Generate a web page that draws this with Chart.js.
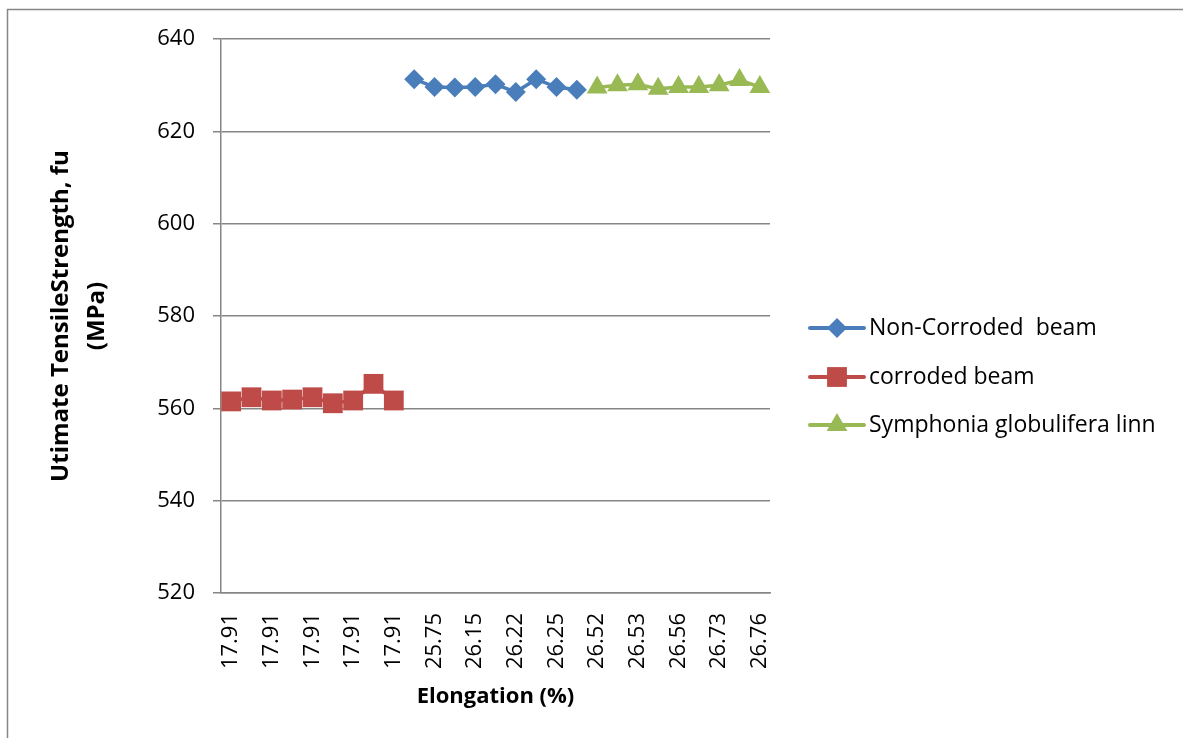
<!DOCTYPE html>
<html>
<head>
<meta charset="utf-8">
<script src="https://cdn.jsdelivr.net/npm/chart.js@4/dist/chart.umd.min.js"></script>
<style>
  html, body { margin: 0; padding: 0; background: #fff; }
  #wrap { width: 1183px; height: 738px; }
</style>
</head>
<body>
<div id="wrap"><canvas id="c" width="1183" height="738"></canvas></div>
<script>
// x categories (only every other label is printed, as in the original)
const elongation = [
	'17.91', '17.91', '17.91', '17.91', '17.91', '17.91', '17.91', '17.91', '17.91',
	'25.60', '25.75', '25.90', '26.15', '26.20', '26.22', '26.24', '26.25', '26.40',
	'26.52', '26.52', '26.53', '26.55', '26.56', '26.60', '26.73', '26.75', '26.76'
]
const nonCorroded = [631.3, 629.6, 629.5, 629.6, 630.2, 628.5, 631.3, 629.6, 629.0]
const corroded = [561.5, 562.4, 561.7, 561.9, 562.4, 561.1, 561.7, 565.3, 561.7]
const symphonia = [629.5, 630.0, 630.2, 629.2, 629.6, 629.6, 630.0, 631.1, 629.6]
const yTicks = [520, 540, 560, 580, 600, 620, 640]

const seriesNames = ['Non-Corroded  beam', 'corroded beam', 'Symphonia globulifera linn']
const seriesStart = [9, 0, 18]

// place a 9 point series at its slot on the shared category axis
function placed(values, start) {
	const out = new Array(elongation.length).fill(null)
	values.forEach((v, i) => { out[start + i] = v })
	return out
}

const gridColor = '#868686'
const fontFamily = "'Open Sans', 'Liberation Sans', sans-serif"

// outer frame of the chart object
const framePlugin = {
	id: 'frame',
	beforeDraw(chart) {
		const ctx = chart.ctx
		ctx.save()
		ctx.strokeStyle = gridColor
		ctx.lineWidth = 1.5
		ctx.beginPath()
		ctx.moveTo(7.5, chart.height)
		ctx.lineTo(7.5, 9.5)
		ctx.lineTo(chart.width, 9.5)
		ctx.stroke()
		ctx.restore()
	}
}

// legend drawn with a short line through the marker, Excel style
const lineLegend = {
	id: 'lineLegend',
	afterDraw(chart) {
		const ctx = chart.ctx
		const x0 = 810, x1 = 864, tx = 869
		const rows = [328, 377, 425]
		ctx.save()
		chart.data.datasets.forEach((ds, i) => {
			const y = rows[i]
			ctx.strokeStyle = ds.borderColor
			ctx.lineWidth = 4
			ctx.lineCap = 'round'
			ctx.beginPath()
			ctx.moveTo(x0, y)
			ctx.lineTo(x1, y)
			ctx.stroke()
			ctx.fillStyle = ds.pointBackgroundColor
			ctx.strokeStyle = ds.pointBorderColor
			Chart.helpers.drawPoint(ctx, {
				pointStyle: ds.pointStyle,
				radius: ds.pointRadius,
				borderWidth: 0,
				rotation: 0
			}, (x0 + x1) / 2, y)
			ctx.fillStyle = '#000'
			ctx.font = '23px ' + fontFamily
			ctx.textBaseline = 'middle'
			ctx.textAlign = 'left'
			ctx.fillText(ds.label, tx, y)
		})
		ctx.restore()
	}
}

const styles = [
	{ color: '#4a7ebb', point: 'rectRot', radius: 10 },
	{ color: '#be4b48', point: 'rect', radius: 14 },
	{ color: '#98b954', point: 'triangle', radius: 12 }
]
const seriesValues = [nonCorroded, corroded, symphonia]

const datasets = seriesValues.map((vals, i) => ({
	label: seriesNames[i],
	data: placed(vals, seriesStart[i]),
	borderColor: styles[i].color,
	backgroundColor: styles[i].color,
	pointBackgroundColor: styles[i].color,
	pointBorderColor: styles[i].color,
	pointStyle: styles[i].point,
	pointRadius: styles[i].radius,
	pointHoverRadius: styles[i].radius,
	pointBorderWidth: 0,
	borderWidth: 3.5,
	tension: 0,
	spanGaps: false
}))

new Chart(document.getElementById('c'), {
	type: 'line',
	data: { labels: elongation, datasets: datasets },
	plugins: [framePlugin, lineLegend],
	options: {
		responsive: false,
		animation: false,
		layout: { padding: { top: 39, right: 413, bottom: 0, left: 0 } },
		plugins: { legend: { display: false }, tooltip: { enabled: false } },
		scales: {
			x: {
				type: 'category',
				offset: true,
				grid: { display: false, drawTicks: false },
				border: { display: true, color: gridColor, width: 1.5 },
				ticks: {
					autoSkip: false,
					minRotation: 90,
					maxRotation: 90,
					padding: 20,
					color: '#000',
					font: { family: fontFamily, size: 22 },
					callback: function (value, index) {
						return index % 2 === 0 ? this.getLabelForValue(value) : ''
					}
				},
				title: {
					display: true,
					text: 'Elongation (%)',
					color: '#000',
					font: { family: fontFamily, size: 22, weight: 'bold' },
					padding: { top: 0, bottom: 28 }
				},
				afterFit(axis) { axis.height = 145 }
			},
			y: {
				min: 520,
				max: 640,
				afterBuildTicks(axis) { axis.ticks = yTicks.map(v => ({ value: v })) },
				grid: { color: gridColor, lineWidth: 1.5, tickLength: 8 },
				border: { display: true, color: gridColor, width: 1.5 },
				ticks: {
					padding: 18,
					color: '#000',
					font: { family: fontFamily, size: 22 }
				},
				title: {
					display: true,
					text: ['Utimate TensileStrength, fu', '(MPa)'],
					color: '#000',
					font: { family: fontFamily, size: 24, weight: 'bold', lineHeight: '36px' },
					padding: { top: 43, bottom: 0 }
				},
				afterFit(axis) { axis.width = 221 }
			}
		}
	}
})
</script>
</body>
</html>
